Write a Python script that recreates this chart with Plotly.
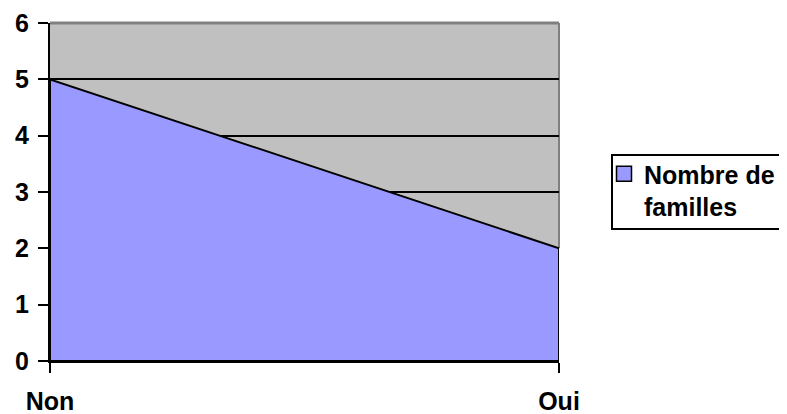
import plotly.graph_objects as go

categories = ["Non", "Oui"]
values = [5, 2]
series_name = "Nombre de<br>familles"
y_ticks = [0, 1, 2, 3, 4, 5, 6]

xpos = list(range(len(categories)))
poly_x = xpos + xpos[::-1] + [xpos[0]]
poly_y = values + [0] * len(values) + [values[0]]

FONT = "Liberation Sans, Arial, sans-serif"
FILL = "#9999ff"
W, H = 787, 414
OFF = 8  # page body margin offset
PL, PR, PT, PB = 50, 559, 23, 361  # plot area in window pixels


def px_x(x):
    return (x - PL) / (PR - PL)


def px_y(y):
    return (PB - y) / (PB - PT)


fig = go.Figure()
fig.add_trace(go.Scatter(
    x=poly_x, y=poly_y, mode="lines", fill="toself",
    fillcolor=FILL, line=dict(color="black", width=2),
    name=series_name, showlegend=False,
))
# legend entry (square swatch)
fig.add_trace(go.Scatter(
    x=[None], y=[None], mode="markers",
    marker=dict(symbol="square", size=15, color=FILL, line=dict(color="black", width=1.5)),
    name=series_name, showlegend=True,
))

fig.update_layout(
    width=W, height=H,
    margin=dict(l=PL - OFF, r=W - PR + OFF, t=PT - OFF, b=H - PB + OFF, autoexpand=False),
    paper_bgcolor="white", plot_bgcolor="#c0c0c0",
    font=dict(family=FONT, size=25, color="black"),
    showlegend=True,
    legend=dict(
        xref="container", yref="container",
        x=(604 - OFF) / W, y=1 - (151 - OFF) / H, xanchor="left", yanchor="top",
        borderwidth=0, bgcolor="rgba(0,0,0,0)", valign="top",
        font=dict(family=FONT, size=25, color="black", weight="bold"),
        itemwidth=30, tracegroupgap=0,
    ),
    xaxis=dict(
        range=[0, len(categories) - 1], tickvals=xpos, ticktext=categories,
        showgrid=False, zeroline=False, automargin=False,
        showline=True, linecolor="black", linewidth=2,
        ticks="outside", ticklen=10, tickwidth=2, tickcolor="black",
        tickfont=dict(family=FONT, size=25, weight="bold"),
        ticklabelstandoff=7,
    ),
    yaxis=dict(
        range=[0, 6], tickvals=y_ticks,
        showgrid=True, gridcolor="black", gridwidth=2,
        zeroline=False, automargin=False,
        showline=True, linecolor="black", linewidth=2,
        ticks="outside", ticklen=10, tickwidth=2, tickcolor="black",
        tickfont=dict(family=FONT, size=25, weight="bold"),
        ticklabelstandoff=4,
    ),
    shapes=[
        dict(type="line", xref="paper", yref="paper", x0=0, x1=1, y0=1, y1=1,
             line=dict(color="#808080", width=3), layer="above"),
        dict(type="line", xref="paper", yref="paper", x0=1, x1=1, y0=1,
             y1=values[-1] / 6, line=dict(color="#808080", width=2), layer="below"),
        # legend frame
        dict(type="rect", xref="paper", yref="paper",
             x0=px_x(612), x1=px_x(800), y0=px_y(229), y1=px_y(155),
             line=dict(color="black", width=2), fillcolor="white", layer="above"),
    ],
)

fig.write_html("out.html")
